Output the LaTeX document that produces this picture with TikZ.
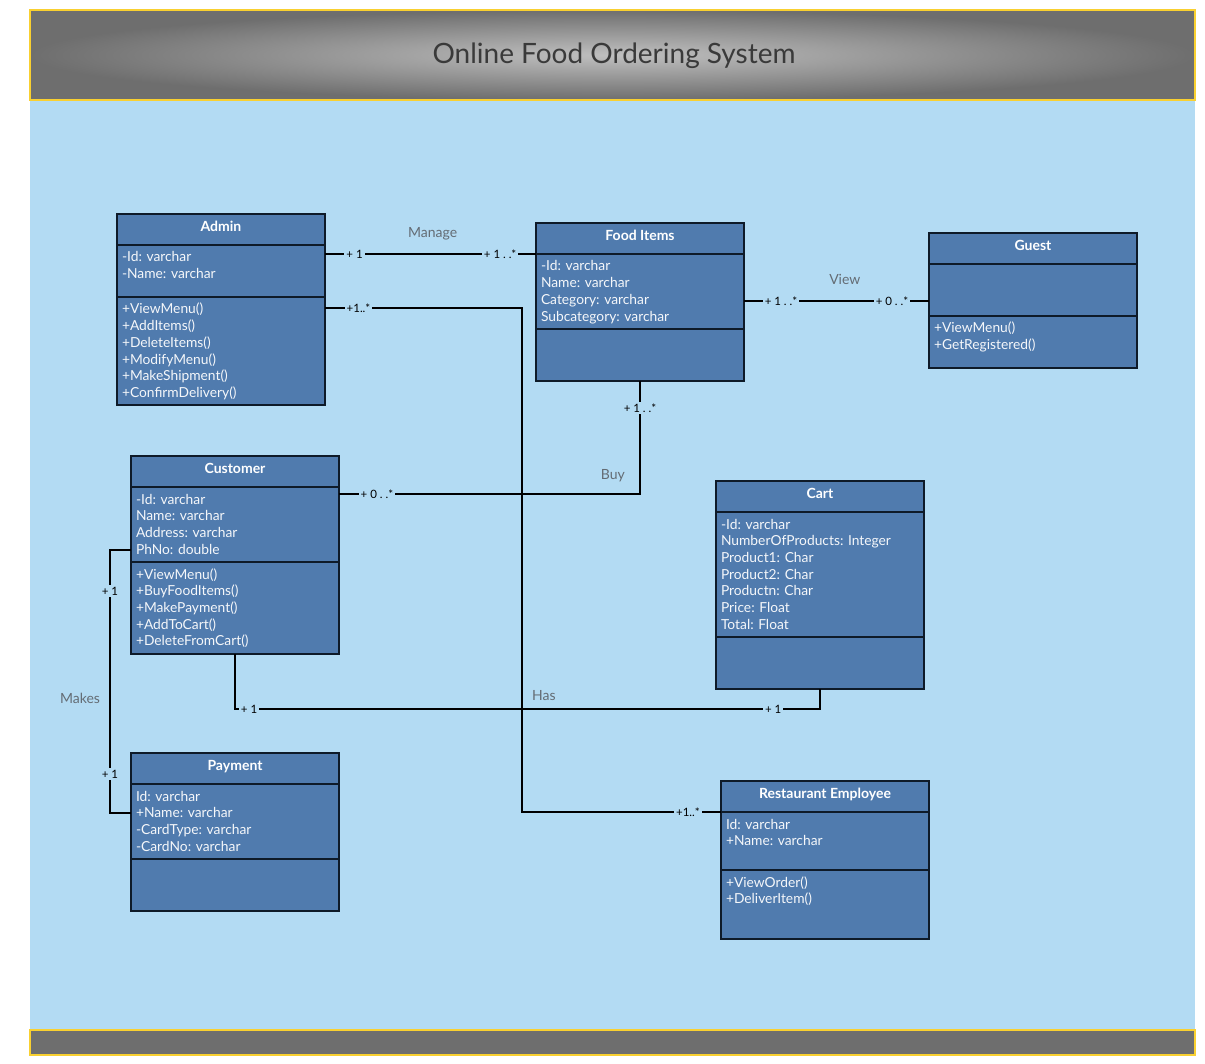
\documentclass[tikz,border=0pt]{standalone}
\usepackage{fontspec}
\setmainfont{Lato}
\usetikzlibrary{positioning}
\usetikzlibrary{calc}
\definecolor{pagebg}{HTML}{B3DBF3}
\definecolor{classfill}{HTML}{507BAE}
\definecolor{classline}{HTML}{0E1A28}
\definecolor{framegold}{HTML}{F9D030}
\definecolor{bargray}{HTML}{6E6E6E}
\definecolor{titlegray}{HTML}{3A3A3A}
\definecolor{labelgray}{HTML}{646C74}
\frenchspacing

\begin{document}
\begin{tikzpicture}[x=1pt,y=-1pt,line width=2pt,node distance=0pt]
	\tikzstyle{classhead}=[draw=classline,fill=classfill,text=white,font=\fontsize{14}{16}\selectfont\bfseries,
		minimum width=208pt,minimum height=31pt,inner sep=0pt,outer sep=0pt,text height=10pt,text depth=6pt,anchor=north west]
	\tikzstyle{classpart}=[draw=classline,fill=classfill,text=white!94!classfill,font=\fontsize{13.8}{16.7}\selectfont,
		text width=198pt,align=left,inner xsep=5pt,inner ysep=5pt,text height=12pt,outer sep=0pt]
	\tikzstyle{mult}=[fill=pagebg,inner sep=2pt,text=black,font=\fontsize{11.5}{13}\selectfont]
	\tikzstyle{rel}=[text=labelgray,font=\fontsize{14}{16}\selectfont]
	\tikzstyle{assoc}=[draw=black,line width=2pt]

	% frame
	\useasboundingbox (0,0) rectangle (1205,1064);
	\fill[white] (0,0) rectangle (1205,1064);
	\fill[pagebg] (30,100) rectangle (1195,1030);
	\shade[inner color=gray!50,outer color=bargray] (30,10) rectangle (1195,100);
	\draw[framegold] (30,10) rectangle (1195,100);
	\fill[bargray] (30,1030) rectangle (1195,1055);
	\draw[framegold] (30,1030) rectangle (1195,1055);
	\node[text=titlegray,font=\fontsize{28}{32}\selectfont] (Title) at (614,56) {Online Food Ordering System};

	% classes
	\node[classhead] (Admin) at (117,214) {Admin};
	\node[classpart,text depth=30pt] (AdminAttr) [below=of Admin] {-Id: varchar\\-Name: varchar};
	\node[classpart,text depth=86pt] (AdminOps) [below=of AdminAttr] {+ViewMenu()\\+AddItems()\\+DeleteItems()\\+ModifyMenu()\\+MakeShipment()\\+ConfirmDelivery()};

	\node[classhead] (Food) at (536,223) {Food Items};
	\node[classpart,text depth=53pt] (FoodAttr) [below=of Food] {-Id: varchar\\Name: varchar\\Category: varchar\\Subcategory: varchar};
	\node[classpart,text depth=30pt] (FoodOps) [below=of FoodAttr] {};

	\node[classhead] (Guest) at (929,233) {Guest};
	\node[classpart,text depth=30pt] (GuestAttr) [below=of Guest] {};
	\node[classpart,text depth=30pt] (GuestOps) [below=of GuestAttr] {+ViewMenu()\\+GetRegistered()};

	\node[classhead] (Customer) at (131,456) {Customer};
	\node[classpart,text depth=53pt] (CustAttr) [below=of Customer] {-Id: varchar\\Name: varchar\\Address: varchar\\PhNo: double};
	\node[classpart,text depth=70pt] (CustOps) [below=of CustAttr] {+ViewMenu()\\+BuyFoodItems()\\+MakePayment()\\+AddToCart()\\+DeleteFromCart()};

	\node[classhead] (Cart) at (716,481) {Cart};
	\node[classpart,text depth=103pt] (CartAttr) [below=of Cart] {-Id: varchar\\NumberOfProducts: Integer\\Product1: Char\\Product2: Char\\Productn: Char\\Price: Float\\Total: Float};
	\node[classpart,text depth=30pt] (CartOps) [below=of CartAttr] {};

	\node[classhead] (Payment) at (131,753) {Payment};
	\node[classpart,text depth=53pt] (PayAttr) [below=of Payment] {Id: varchar\\+Name: varchar\\-CardType: varchar\\-CardNo: varchar};
	\node[classpart,text depth=30pt] (PayOps) [below=of PayAttr] {};

	\node[classhead] (RestEmp) at (721,781) {Restaurant Employee};
	\node[classpart,text depth=36pt] (RestAttr) [below=of RestEmp] {Id: varchar\\+Name: varchar};
	\node[classpart,text depth=47pt] (RestOps) [below=of RestAttr] {+ViewOrder()\\+DeliverItem()};

	% attachment points
	\coordinate (viewstart) at ([yshift=-10pt]FoodAttr.east);
	\coordinate (buyend) at ([yshift=-7pt]CustAttr.north east);
	\coordinate (makesstart) at ([yshift=12pt]CustAttr.south west);
	\coordinate (makesend) at ([yshift=-29pt]PayAttr.north west);
	\coordinate (deliverstart) at ([yshift=-11pt]AdminOps.north east);

	% associations
	\draw[assoc] (AdminAttr.east |- FoodAttr.north) -- node[mult,pos=.14]{+ 1} node[mult,pos=.83]{+ 1 . .*}
		node[rel,pos=.51,yshift=20pt]{Manage} (FoodAttr.north west);
	\draw[assoc] (deliverstart) -- node[mult,pos=.17]{+1..*} ++(197,0) |- node[mult,pos=.917]{+1..*} (RestAttr.north west);
	\draw[assoc] (viewstart) -- node[mult,pos=.2]{+ 1 . .*} node[mult,pos=.8]{+ 0 . .*}
		node[rel,pos=.545,yshift=22pt]{View} (viewstart -| GuestAttr.west);
	\draw[assoc] (FoodOps.south) |- node[mult,pos=.12]{+ 1 . .*} node[mult,pos=.937]{+ 0 . .*}
		node[rel,pos=.545,yshift=18pt]{Buy} (buyend);
	\draw[assoc] (makesstart) -- ++(-21,0) |- node[mult,pos=.078]{+ 1} node[mult,pos=.426]{+ 1}
		node[rel,pos=.283,xshift=-30pt]{Makes} (makesend);
	\draw[assoc] (CustOps.south) -- ++(0,55) -| node[mult,pos=.012]{+ 1} node[mult,pos=.46]{+ 1}
		node[rel,pos=.264,yshift=13pt]{Has} (CartOps.south);
\end{tikzpicture}
\end{document}
